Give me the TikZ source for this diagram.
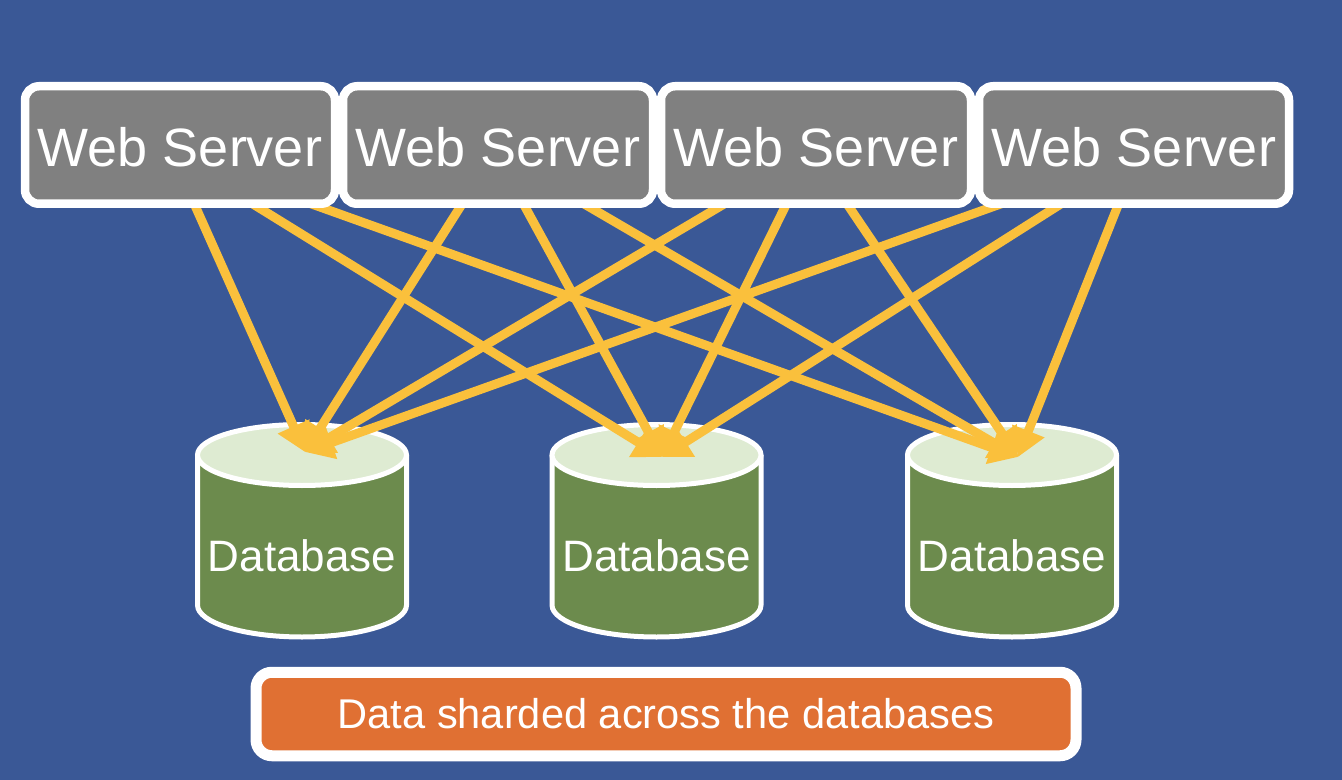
\documentclass[tikz,border=0pt]{standalone}
\usepackage{fontspec}
\setmainfont{Liberation Sans}
\usetikzlibrary{arrows.meta,backgrounds}

\definecolor{slideblue}{RGB}{58,88,150}
\definecolor{servergray}{RGB}{128,128,128}
\definecolor{linkyellow}{RGB}{250,192,60}
\definecolor{dbgreen}{RGB}{108,139,77}
\definecolor{dblight}{RGB}{222,235,210}
\definecolor{noteorange}{RGB}{224,112,51}

\tikzset{
  server/.style={draw=white, line width=4.25pt, fill=servergray, rounded corners=7pt,
    minimum width=155pt, minimum height=58.75pt, inner sep=0pt, text=white,
    text height=21.5pt, font=\fontsize{27}{32}\selectfont},
  dblabel/.style={inner sep=0pt, text=white, font=\fontsize{22}{26}\selectfont},
  note/.style={draw=white, line width=5.5pt, fill=noteorange, rounded corners=8pt,
    minimum width=410pt, minimum height=41.75pt, inner sep=0pt, text=white,
    font=\fontsize{20.8}{25}\selectfont},
  link/.style={draw=linkyellow, line width=4.5pt, -{Triangle[length=14pt,width=16.5pt]}},
}

\begin{document}
\begin{tikzpicture}[x=0.5pt,y=0.5pt,yscale=-1,xscale=1]
                  \useasboundingbox (0,0) rectangle (1342,780);

                  \begin{scope}[on background layer]
                  %Shape: Rectangle [id:background]
                  \fill [slideblue] (0,0) rectangle (1342,780);
                  %Shape: Can [id:databases]
                  \foreach \cx in {302,656.5,1012}{
                    \filldraw [fill=dbgreen, draw=white, line width=2.5pt] (\cx-104.5,455) -- (\cx-104.5,605) arc [start angle=180, end angle=0, x radius=104.5, y radius=32] -- (\cx+104.5,455) ;
                    \filldraw [fill=dblight, draw=white, line width=2.5pt] (\cx,455) ellipse [x radius=104.5, y radius=30.5] ;
                  }
                  \end{scope}

                  % Text Node
                  \node [server] (ws1) at (180,145) {Web Server};
                  % Text Node
                  \node [server] (ws2) at (498,145) {Web Server};
                  % Text Node
                  \node [server] (ws3) at (816,145) {Web Server};
                  % Text Node
                  \node [server] (ws4) at (1134,145) {Web Server};
                  \coordinate (ws1out) at (172,154);
                  \coordinate (ws2out) at (495,152);
                  \coordinate (ws3out) at (812,152);
                  \coordinate (ws4out) at (1138,155);

                  % Text Node
                  \node [dblabel] (db1) at (302,556) {Database};
                  % Text Node
                  \node [dblabel] (db2) at (656.5,556) {Database};
                  % Text Node
                  \node [dblabel] (db3) at (1012,556) {Database};
                  \coordinate (db1top) at (305,452);
                  \coordinate (db2top) at (662,457);
                  \coordinate (db3top) at (1018,457);

                  % Text Node
                  \node [note] (shard) at (666,714) {Data sharded across the databases};

                  \begin{scope}[on background layer]
                  %Straight Lines [id:links]
                  \foreach \i in {1,...,4}
                    \foreach \j in {1,2,3}
                      \draw [link] (ws\i out) -- (db\j top) ;
                  \end{scope}

\end{tikzpicture}
\end{document}
